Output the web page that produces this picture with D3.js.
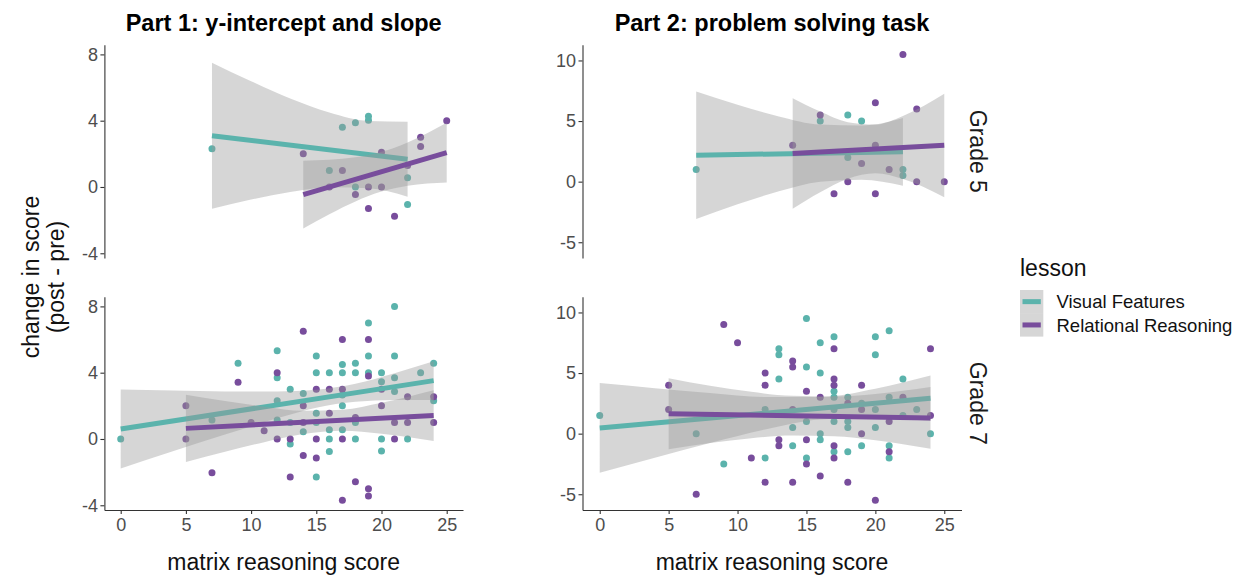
<!DOCTYPE html>
<html>
<head>
<meta charset="utf-8">
<script src="https://cdn.jsdelivr.net/npm/d3@7"></script>
<style>
  body { margin: 0; background: #fff; }
  svg { display: block; font-family: "Liberation Sans", Arial, Helvetica, sans-serif; }
</style>
</head>
<body>
<svg id="chart" width="1240" height="576"></svg>
<script>
// ---- categories and tick labels ----
const lessons = ["Visual Features", "Relational Reasoning"];
const parts = ["Part 1: y-intercept and slope", "Part 2: problem solving task"];
const grades = ["Grade 5", "Grade 7"];
const xTicks = [0, 5, 10, 15, 20, 25];
const yTicksPart1 = [-4, 0, 4, 8];
const yTicksPart2 = [-5, 0, 5, 10];

// ---- Part 1, Grade 5: [matrix score, change] ----
const p1g5Visual = [[7,2.3],[16,1],[17,3.6],[18,3.87],[19,4.27],[19,4.02],[18,0],[22,-1.05],[22,0.55]];
const p1g5Relational = [[14,2],[16,0],[17,1],[18,-0.46],[19,0],[19,-1.3],[20,2.1],[20,0],[21,-1.77],[22,1.3],[23,3],[23,2.44],[25,4]];
// fitted line ends and confidence band [x, lower, upper]
const p1g5VisualFit = [[7,3.09],[22,1.67]];
const p1g5VisualBand = [[7,-1.32,7.5],[10,-0.76,6.38],[13,-0.3,5.34],[16,-0.01,4.49],[19,-0.08,3.98],[22,-0.59,3.93]];
const p1g5RelationalFit = [[14,-0.46],[25,2.07]];
const p1g5RelationalBand = [[14,-2.51,1.59],[16,-1.64,1.64],[18,-0.87,1.79],[20,-0.28,2.12],[22,0.07,2.69],[25,0.27,3.87]];

// ---- Part 2, Grade 5 ----
const p2g5Visual = [[7,1],[16,5],[18,5.5],[19,5],[18,2],[22,1],[22,0.5]];
const p2g5Relational = [[14,3],[16,5.5],[17,-1],[18,0],[19,1.5],[20,6.5],[20,3],[20,-1],[21,1],[22,10.5],[23,6],[23,0],[25,0]];
const p2g5VisualFit = [[7,2.18],[22,2.46]];
const p2g5VisualBand = [[7,-3.08,7.44],[10,-1.87,6.35],[13,-0.8,5.38],[16,-0.01,4.71],[19,0.16,4.64],[22,-0.34,5.26]];
const p2g5RelationalFit = [[14,2.32],[25,3.01]];
const p2g5RelationalBand = [[14,-2.24,6.88],[16,-0.88,5.78],[18,0.23,4.91],[20,0.69,4.71],[22,0.22,5.42],[25,-1.29,7.25]];

// ---- Part 1, Grade 7 ----
const p1g7Visual = [[0,0],[7,1.15],[9,4.57],[12,5.33],[12,3.7],[12,2.3],[12,1.15],[13,3.0],[13,1],[13,-0.3],[14,2.75],[14,0.44],[15,5],[15,4],[15,1.55],[15,1],[15,-2.3],[16,4],[16,0.55],[16,0],[16,-0.76],[17,4.5],[17,4],[17,2.65],[17,2],[17,0.55],[18,4.57],[18,4],[18,1],[18,0],[19,7],[19,5],[19,4],[20,4],[20,3.46],[20,0],[20,-0.72],[21,8],[21,5],[21,3.7],[21,2.86],[22,0],[23,4],[24,4.57],[24,2.3]];
const p1g7Relational = [[5,2],[5,0],[7,-2.03],[9,3.42],[10,1],[11,0.5],[12,4],[12,0],[13,0],[13,-2.3],[14,6.5],[14,2],[14,1],[14,-1],[15,3],[15,0],[15,-1.15],[16,3],[16,1.55],[17,6],[17,3],[17,0],[17,-3.7],[18,1.3],[18,-2.58],[19,6],[19,3.8],[19,-3],[19,-3.44],[20,3],[20,2],[21,1],[21,0],[22,2.55],[22,1],[24,2.55],[24,1]];
const p1g7VisualFit = [[0,0.6],[24,3.52]];
const p1g7VisualBand = [[0,-1.78,2.98],[4,-0.74,2.92],[8,0.27,2.87],[12,1.25,2.87],[15,1.89,2.97],[18,2.25,3.33],[21,2.35,3.97],[24,2.35,4.69]];
const p1g7RelationalFit = [[5,0.64],[24,1.41]];
const p1g7RelationalBand = [[5,-1.39,2.67],[8,-0.77,2.29],[11,-0.19,1.95],[14,0.3,1.7],[17,0.5,1.76],[20,0.32,2.18],[24,-0.12,2.94]];

// ---- Part 2, Grade 7 ----
const p2g7Visual = [[0,1.5],[7,0],[9,-2.5],[12,2],[12,-2],[13,7],[13,6.5],[13,4.5],[14,0.5],[14,-1],[15,9.5],[15,5.5],[15,1],[15,-2],[16,7.5],[16,5],[16,0],[16,-0.5],[17,8],[17,3.5],[17,3],[17,2],[17,1],[17,-1.5],[18,3],[18,1],[18,0.5],[18,-1.5],[19,2.5],[19,-1],[20,8],[20,6.5],[20,2],[20,0.5],[21,8.5],[21,3],[21,-1],[21,-2],[22,4.5],[22,1.5],[23,2],[24,0]];
const p2g7Relational = [[5,4],[5,2],[7,-5],[9,9],[10,7.5],[11,-2],[12,5],[12,4],[12,-4],[13,-0.5],[13,-1],[14,6],[14,5.5],[14,2],[14,-4],[15,3.5],[15,-0.5],[15,-2.5],[16,3],[16,-3.5],[17,7],[17,4.5],[17,4],[17,-1],[17,-2],[18,2.5],[18,-4],[19,4],[19,2],[19,0],[20,-5.5],[21,1],[21,-1.5],[22,3],[24,7],[24,1.5]];
const p2g7VisualFit = [[0,0.47],[24,2.92]];
const p2g7VisualBand = [[0,-3.23,4.17],[4,-1.99,3.75],[8,-0.77,3.35],[12,0.35,3.03],[16,1.17,3.03],[20,1.32,3.7],[24,1.05,4.79]];
const p2g7RelationalFit = [[5,1.65],[24,1.3]];
const p2g7RelationalBand = [[5,-1.28,4.58],[8,-0.78,3.96],[11,-0.37,3.45],[14,-0.16,3.12],[17,-0.21,3.07],[20,-0.54,3.28],[24,-1.25,3.85]];

// ---- layout ----
const svg = d3.select("#chart");
const colour = d3.scaleOrdinal().domain(lessons).range(["#5bb3ac", "#784d9c"]);
const partX = [[104.4, 463], [582.5, 961.5]];
const rowY = [[258, 44.7], [510, 296.7]];
const partYDomain = [[-4.285, 8.585], [-6.3, 11.3]];
const partYTicks = [yTicksPart1, yTicksPart2];
const axisColour = "#333333";
const tickTextColour = "#4d4d4d";

const panels = [
  { part: 0, row: 0, series: [
    { lesson: lessons[0], points: p1g5Visual, fit: p1g5VisualFit, band: p1g5VisualBand },
    { lesson: lessons[1], points: p1g5Relational, fit: p1g5RelationalFit, band: p1g5RelationalBand } ] },
  { part: 1, row: 0, series: [
    { lesson: lessons[0], points: p2g5Visual, fit: p2g5VisualFit, band: p2g5VisualBand },
    { lesson: lessons[1], points: p2g5Relational, fit: p2g5RelationalFit, band: p2g5RelationalBand } ] },
  { part: 0, row: 1, series: [
    { lesson: lessons[0], points: p1g7Visual, fit: p1g7VisualFit, band: p1g7VisualBand },
    { lesson: lessons[1], points: p1g7Relational, fit: p1g7RelationalFit, band: p1g7RelationalBand } ] },
  { part: 1, row: 1, series: [
    { lesson: lessons[0], points: p2g7Visual, fit: p2g7VisualFit, band: p2g7VisualBand },
    { lesson: lessons[1], points: p2g7Relational, fit: p2g7RelationalFit, band: p2g7RelationalBand } ] }
];

function styleAxis(sel) {
  sel.attr("font-family", null).attr("font-size", null);
  sel.select(".domain").attr("stroke", axisColour).attr("stroke-width", 1.1);
  sel.selectAll(".tick line").attr("stroke", axisColour).attr("stroke-width", 1.1);
  sel.selectAll(".tick text").attr("fill", tickTextColour).attr("font-size", 18);
}

panels.forEach(p => {
  const x = d3.scaleLinear().domain([-1.25, 26.25]).range(partX[p.part]);
  const y = d3.scaleLinear().domain(partYDomain[p.part]).range(rowY[p.row]);
  const g = svg.append("g").attr("class", "panel");

  // scatter points
  p.series.forEach(s => {
    g.append("g").selectAll("circle").data(s.points).join("circle")
      .attr("cx", d => x(d[0]))
      .attr("cy", d => y(d[1]))
      .attr("r", 3.5)
      .attr("fill", colour(s.lesson));
  });

  // confidence bands and fitted lines, one lesson after the other
  const area = d3.area().x(d => x(d[0])).y0(d => y(d[1])).y1(d => y(d[2])).curve(d3.curveMonotoneX);
  const line = d3.line().x(d => x(d[0])).y(d => y(d[1]));
  p.series.forEach(s => {
    g.append("path").attr("d", area(s.band)).attr("fill", "#999999").attr("fill-opacity", 0.4);
    g.append("path").attr("d", line(s.fit)).attr("fill", "none")
      .attr("stroke", colour(s.lesson)).attr("stroke-width", 5);
  });

  // y axis
  const ya = g.append("g")
    .attr("transform", `translate(${partX[p.part][0]},0)`)
    .call(d3.axisLeft(y).tickValues(partYTicks[p.part]).tickSize(4).tickSizeOuter(0)
      .tickPadding(2.5).tickFormat(d => String(d)));
  styleAxis(ya);

  // x axis on the bottom row only
  if (p.row === 1) {
    const xa = g.append("g")
      .attr("transform", `translate(0,${rowY[p.row][0]})`)
      .call(d3.axisBottom(x).tickValues(xTicks).tickSize(4).tickSizeOuter(0)
        .tickPadding(4.5).tickFormat(d => String(d)));
    styleAxis(xa);
  }
});

// column titles
parts.forEach((t, i) => {
  svg.append("text")
    .attr("x", (partX[i][0] + partX[i][1]) / 2)
    .attr("y", 31)
    .attr("text-anchor", "middle")
    .attr("font-size", 23.5)
    .attr("font-weight", "bold")
    .attr("fill", "#000")
    .text(t);
  // x axis title
  svg.append("text")
    .attr("x", (partX[i][0] + partX[i][1]) / 2)
    .attr("y", 570)
    .attr("text-anchor", "middle")
    .attr("font-size", 23)
    .attr("fill", "#111")
    .text("matrix reasoning score");
});

// row strip labels
grades.forEach((t, i) => {
  const cy = (rowY[i][0] + rowY[i][1]) / 2;
  svg.append("text")
    .attr("transform", `translate(978,${cy}) rotate(90)`)
    .attr("text-anchor", "middle")
    .attr("dominant-baseline", "central")
    .attr("font-size", 23)
    .attr("fill", "#1a1a1a")
    .text(t);
});

// y axis title
const yTitle = svg.append("text")
  .attr("transform", `translate(38.5,277) rotate(-90)`)
  .attr("text-anchor", "middle")
  .attr("font-size", 23)
  .attr("fill", "#111");
yTitle.append("tspan").attr("x", 0).attr("dy", 0).text("change in score");
yTitle.append("tspan").attr("x", 0).attr("dy", 25.5).text("(post - pre)");

// legend
const legend = svg.append("g").attr("transform", "translate(1020,0)");
legend.append("text").attr("x", 0).attr("y", 276).attr("font-size", 23).attr("fill", "#111").text("lesson");
lessons.forEach((l, i) => {
  const top = 290 + i * 23.3;
  legend.append("rect").attr("x", 0).attr("y", top).attr("width", 23.3).attr("height", 23.3)
    .attr("fill", "#999999").attr("fill-opacity", 0.4);
  legend.append("line").attr("x1", 2.5).attr("x2", 20.8)
    .attr("y1", top + 11.65).attr("y2", top + 11.65)
    .attr("stroke", colour(l)).attr("stroke-width", 5);
  legend.append("text").attr("x", 36.5).attr("y", top + 18.3)
    .attr("font-size", 18.5).attr("fill", "#111").text(l);
});
</script>
</body>
</html>
